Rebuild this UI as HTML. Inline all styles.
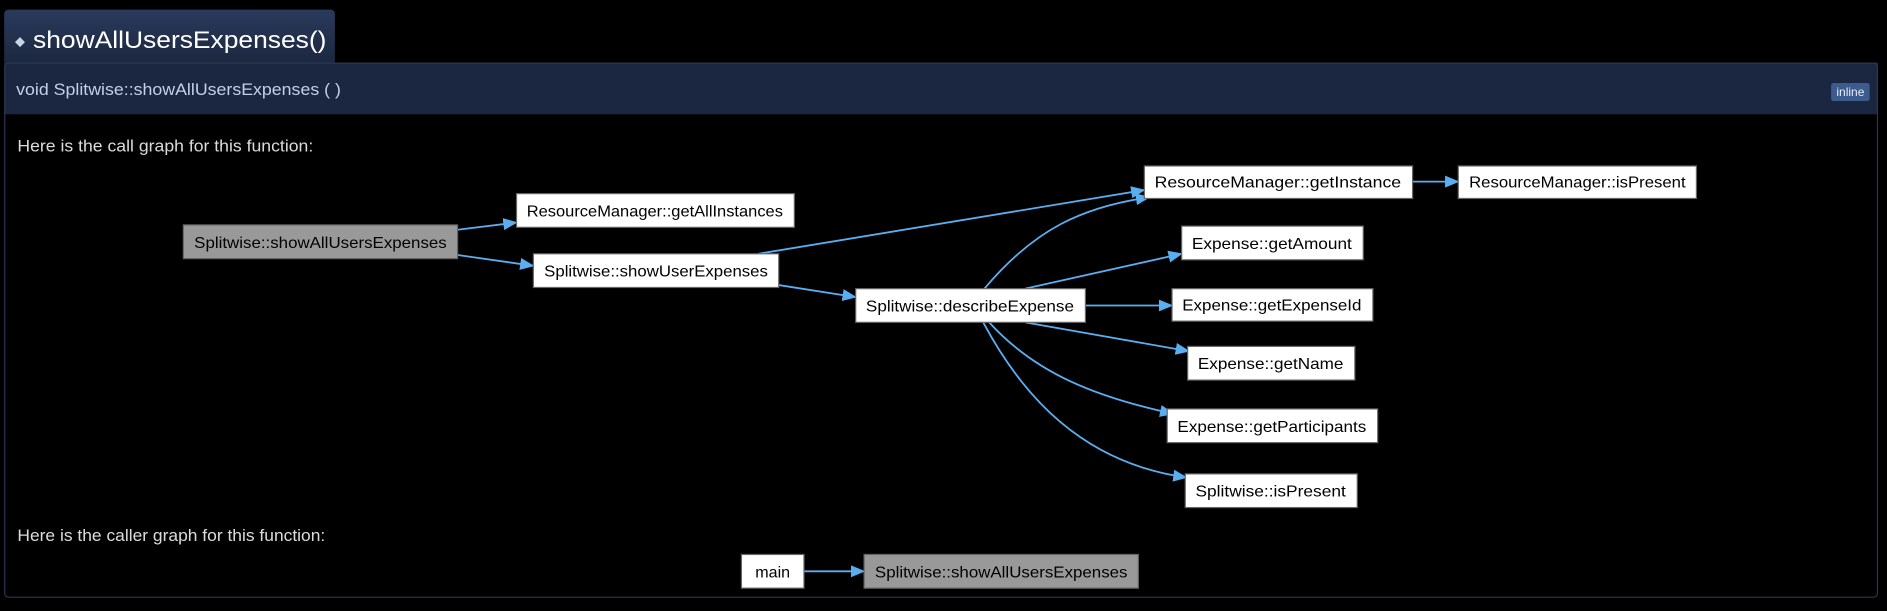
<!DOCTYPE html>
<html><head><meta charset="utf-8"><style>
html,body{margin:0;padding:0;background:#000;width:1887px;height:611px;overflow:hidden}
svg{display:block}
text{font-family:"Liberation Sans",sans-serif}
</style></head><body>
<svg width="1887" height="611" viewBox="0 0 1568 508" xmlns="http://www.w3.org/2000/svg">
<defs>
<linearGradient id="tab" x1="0" y1="0" x2="0" y2="1"><stop offset="0" stop-color="#2a3a5c"/><stop offset="1" stop-color="#1c2840"/></linearGradient>
<marker id="ar" markerWidth="12" markerHeight="10" refX="11" refY="5" orient="auto" markerUnits="userSpaceOnUse"><path d="M0,0 L12,5 L0,10 Z" fill="#5aaef0"/></marker>
</defs>
<rect x="0" y="0" width="1568" height="508" fill="#000"/>
<path d="M3,52 V12 Q3,8 7,8 H274 Q278,8 278,12 V52 Z" fill="url(#tab)"/>
<text x="12" y="38" font-size="11" fill="#c8d4ea">◆</text>
<text x="27" y="40" font-size="20" fill="#fff" textLength="244" lengthAdjust="spacingAndGlyphs">showAllUsersExpenses()</text>
<rect x="3" y="52" width="1558" height="43" fill="#1b2740"/>
<rect x="3.5" y="52.5" width="1557" height="444" rx="3" fill="none" stroke="#2a3652"/>
<text x="13" y="79" font-size="14" fill="#c3cfe6" textLength="270" lengthAdjust="spacingAndGlyphs">void Splitwise::showAllUsersExpenses (  )</text>
<rect x="1522" y="69" width="32" height="15" rx="2" fill="#3d5c8e"/>
<text x="1538" y="80" font-size="10" fill="#e6eefc" text-anchor="middle">inline</text>
<text x="14" y="126" font-size="14" fill="#dcdcdc" textLength="246" lengthAdjust="spacingAndGlyphs">Here is the call graph for this function:</text>
<text x="14" y="450" font-size="14" fill="#dcdcdc" textLength="256" lengthAdjust="spacingAndGlyphs">Here is the caller graph for this function:</text>
<g stroke="#5aaef0" stroke-width="1.5" fill="none" marker-end="url(#ar)">
<line x1="380" y1="191" x2="429" y2="185"/>
<line x1="380" y1="212" x2="443" y2="221"/>
<line x1="630" y1="211" x2="951" y2="158"/>
<line x1="647" y1="237" x2="711" y2="247"/>
<path d="M818,240 C860,190 900,172 955,164"/>
<line x1="1174" y1="151" x2="1212" y2="151"/>
<line x1="852" y1="240" x2="982" y2="211"/>
<line x1="902" y1="254" x2="974" y2="254"/>
<line x1="852" y1="268" x2="988" y2="292"/>
<path d="M822,268 C860,310 910,330 975,344"/>
<path d="M817,268 C850,330 900,385 986,397"/>
<line x1="668" y1="475" x2="718" y2="475"/>
</g>
<g font-size="13" text-anchor="middle" fill="#000" lengthAdjust="spacingAndGlyphs">
<rect x="152" y="187" width="228" height="28" fill="#999" stroke="#666"/><text x="266" y="206" textLength="210" lengthAdjust="spacingAndGlyphs">Splitwise::showAllUsersExpenses</text>
<rect x="429" y="161" width="231" height="28" fill="#fff" stroke="#666"/><text x="544" y="180" textLength="213" lengthAdjust="spacingAndGlyphs">ResourceManager::getAllInstances</text>
<rect x="443" y="211" width="204" height="28" fill="#fff" stroke="#666"/><text x="545" y="230" textLength="186" lengthAdjust="spacingAndGlyphs">Splitwise::showUserExpenses</text>
<rect x="711" y="240" width="191" height="28" fill="#fff" stroke="#666"/><text x="806" y="259" textLength="173" lengthAdjust="spacingAndGlyphs">Splitwise::describeExpense</text>
<rect x="951" y="138" width="223" height="27" fill="#fff" stroke="#666"/><text x="1062" y="156" textLength="205" lengthAdjust="spacingAndGlyphs">ResourceManager::getInstance</text>
<rect x="1212" y="138" width="198" height="27" fill="#fff" stroke="#666"/><text x="1311" y="156" textLength="180" lengthAdjust="spacingAndGlyphs">ResourceManager::isPresent</text>
<rect x="982" y="188" width="151" height="28" fill="#fff" stroke="#666"/><text x="1057" y="207" textLength="133" lengthAdjust="spacingAndGlyphs">Expense::getAmount</text>
<rect x="974" y="240" width="167" height="27" fill="#fff" stroke="#666"/><text x="1057" y="258" textLength="149" lengthAdjust="spacingAndGlyphs">Expense::getExpenseId</text>
<rect x="987" y="288" width="139" height="28" fill="#fff" stroke="#666"/><text x="1056" y="307" textLength="121" lengthAdjust="spacingAndGlyphs">Expense::getName</text>
<rect x="970" y="340" width="175" height="28" fill="#fff" stroke="#666"/><text x="1057" y="359" textLength="157" lengthAdjust="spacingAndGlyphs">Expense::getParticipants</text>
<rect x="985" y="394" width="143" height="28" fill="#fff" stroke="#666"/><text x="1056" y="413" textLength="125" lengthAdjust="spacingAndGlyphs">Splitwise::isPresent</text>
<rect x="616" y="461" width="52" height="28" fill="#fff" stroke="#666"/><text x="642" y="480" textLength="29" lengthAdjust="spacingAndGlyphs">main</text>
<rect x="718" y="461" width="228" height="28" fill="#999" stroke="#666"/><text x="832" y="480" textLength="210" lengthAdjust="spacingAndGlyphs">Splitwise::showAllUsersExpenses</text>
</g>
</svg>
</body></html>
